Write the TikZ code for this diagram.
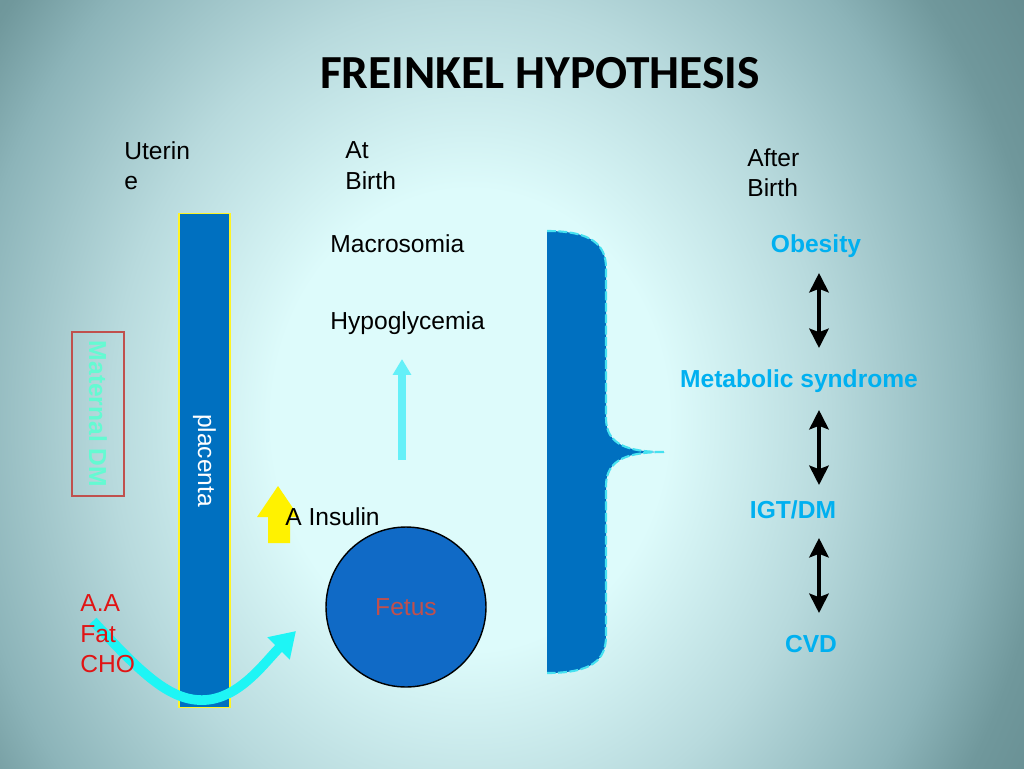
\documentclass[tikz,border=0pt]{standalone}
\usepackage{fontspec}
\setmainfont{Liberation Sans}
\newfontfamily\headfont{Carlito}
\usetikzlibrary{arrows.meta}
\definecolor{glowa}{RGB}{221,251,251}
\definecolor{glowb}{RGB}{184,218,221}
\definecolor{glowc}{RGB}{140,180,185}
\definecolor{glowd}{RGB}{112,152,156}
\definecolor{glowe}{RGB}{88,126,130}
\definecolor{placentablue}{RGB}{0,112,192}
\definecolor{fetusblue}{RGB}{16,106,198}
\definecolor{fetusred}{RGB}{192,80,77}
\definecolor{lifeblue}{RGB}{0,176,240}
\definecolor{nutrired}{RGB}{225,20,20}
\definecolor{mint}{RGB}{100,250,210}
\definecolor{flowcyan}{RGB}{30,245,245}
\definecolor{risecyan}{RGB}{100,240,248}
\definecolor{bracedash}{RGB}{70,225,240}
\pgfdeclareradialshading{slideglow}{\pgfpoint{0bp}{0bp}}{color(0bp)=(glowa); color(8bp)=(glowa); color(14.5bp)=(glowb); color(20.5bp)=(glowc); color(23.5bp)=(glowd); color(31bp)=(glowe); color(50bp)=(glowe)}
\tikzset{
  plain/.style={font=\fontsize{14}{17.5}\selectfont, inner sep=0pt, align=left},
  later/.style={font=\bfseries\fontsize{14}{17.5}\selectfont, text=lifeblue, inner sep=0pt},
  lifearrow/.style={line width=2.3pt, {Stealth[width=11pt,length=11pt,inset=2pt]}-{Stealth[width=11pt,length=11pt,inset=2pt]}},
}
\begin{document}
\begin{tikzpicture}[x=0.02cm, y=-0.02cm]
\useasboundingbox (0,0) rectangle (1024,768) ;
\clip (0,0) rectangle (1024,768) ;
\shade[shading=slideglow] (-150,-300) rectangle (1090,1140) ;
\node[font=\headfont\bfseries\fontsize{27}{32}\selectfont, inner sep=0pt, anchor=base] (title) at (540,88) {FREINKEL HYPOTHESIS} ;
\node[plain, anchor=north west] (uterine) at (124,141) {Uterin\\e} ;
\node[plain, anchor=north west] (atbirth) at (345,141) {At\\Birth} ;
\node[plain, anchor=north west] (afterbirth) at (747,148) {After\\Birth} ;
\node[rotate=-90, minimum width=3.28cm, minimum height=1.04cm, draw=fetusred, line width=0.8pt, text=mint, font=\bfseries\fontsize{14}{17}\selectfont] (maternal) at (98,414) {Maternal DM} ;
\node[rotate=-90, minimum width=9.9cm, minimum height=1.02cm, fill=placentablue, draw=yellow!85!white, line width=0.6pt, text=white, inner sep=0pt, font=\fontsize{14}{17}\selectfont] (placenta) at (204.5,460.5) {placenta} ;
\coordinate (flowstart) at (93,621) ;
\coordinate (flowend) at (296,631) ;
\draw[flowcyan, line width=5.5pt, -{Triangle[width=17pt,length=14pt]}] (flowstart) .. controls (140,672) and (170,702) .. (205,700) .. controls (240,698) and (265,662) .. (flowend) ;
\node[plain, anchor=north west, text=nutrired] (nutrients) at (80,594) {A.A\\Fat\\CHO} ;
\node[circle, minimum size=3.2cm, fill=fetusblue, draw=black, line width=0.8pt, text=fetusred, font=\fontsize{14}{17}\selectfont] (fetus) at (406,607) {Fetus} ;
\fill[yellow] (268,543) -- (268,517) -- (257,517) -- (278,486) -- (299,517) -- (290,517) -- (290,543) -- cycle ;
\node[plain, anchor=base west] (insulin) at (285,525) {A Insulin} ;
\node[plain, anchor=base west] (macro) at (330,252) {Macrosomia} ;
\node[plain, anchor=base west] (hypo) at (330,329) {Hypoglycemia} ;
\coordinate (risefoot) at (402,460) ;
\coordinate (risetip) at (402,359) ;
\draw[risecyan, line width=4.5pt, -{Triangle[width=10pt,length=9pt]}] (risefoot) -- (risetip) ;
\fill[placentablue] (547,231) .. controls (592,231) and (606,245) .. (606,268) -- (606,418) .. controls (606,445) and (628,452) .. (665,452) .. controls (628,452) and (606,459) .. (606,486) -- (606,636) .. controls (606,660) and (592,673) .. (547,673) -- cycle ;
\draw[bracedash, line width=1.2pt, dash pattern=on 5pt off 1.5pt] (547,231) .. controls (592,231) and (606,245) .. (606,268) -- (606,418) .. controls (606,445) and (628,452) .. (665,452) .. controls (628,452) and (606,459) .. (606,486) -- (606,636) .. controls (606,660) and (592,673) .. (547,673) ;
\node[later, anchor=base] (obesity) at (816,252) {Obesity} ;
\node[later, anchor=base] (metsyn) at (799,387) {Metabolic syndrome} ;
\node[later, anchor=base] (igt) at (793,518) {IGT/DM} ;
\node[later, anchor=base] (cvd) at (811,652) {CVD} ;
\coordinate (a1) at (819,273) ;
\coordinate (a2) at (819,348) ;
\coordinate (a3) at (819,410) ;
\coordinate (a4) at (819,485) ;
\coordinate (a5) at (819,538) ;
\coordinate (a6) at (819,613) ;
\draw[lifearrow] (a1) -- (a2) ;
\draw[lifearrow] (a3) -- (a4) ;
\draw[lifearrow] (a5) -- (a6) ;
\end{tikzpicture}
\end{document}
